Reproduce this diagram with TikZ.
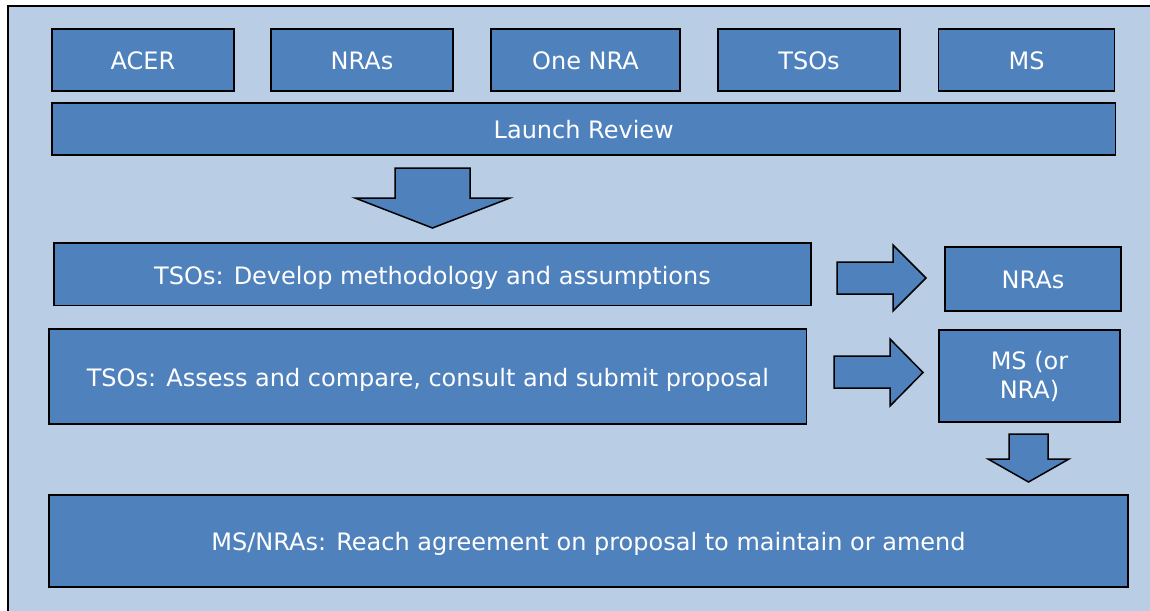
\documentclass[tikz,border=0pt]{standalone}
\usepackage{fontspec}
\setmainfont{DejaVu Sans}
\definecolor{boxblue}{RGB}{79,129,189}
\definecolor{bgblue}{RGB}{185,205,229}
\tikzset{
  blk/.style={draw=black, line width=1.5pt, fill=boxblue, text=white,
    font=\fontsize{24}{29}\selectfont, align=center, inner sep=0pt},
  blkone/.style={blk, text height=19.5pt, text depth=0pt},
  blockarrow/.style={draw=black, line width=1.5pt, fill=boxblue, line join=miter},
  frame/.style={draw=black, line width=1.5pt, fill=bgblue}
}
\begin{document}
\begin{tikzpicture}[x=1pt,y=-1pt]
\useasboundingbox (0,0) rectangle (1150,610);
\fill[white] (0,0) rectangle (1150,610);
\draw[frame] (8,6) rectangle (1170,630);
% top row
\node[blkone, minimum width=182pt, minimum height=62pt] (acer) at (143,60) {ACER};
\node[blkone, minimum width=182pt, minimum height=62pt] (nras) at (362,60) {NRAs};
\node[blkone, minimum width=189pt, minimum height=62pt] (onenra) at (585.5,60) {One NRA};
\node[blkone, minimum width=182pt, minimum height=62pt] (tsos) at (809,60) {TSOs};
\node[blkone, minimum width=176pt, minimum height=62pt] (ms) at (1026.5,60) {MS};
\node[blkone, minimum width=1063.5pt, minimum height=52pt] (launch) at (583.75,129) {Launch Review};
% middle
\node[blkone, minimum width=757pt, minimum height=62.5pt] (develop) at (432.5,274.25) {TSOs: Develop methodology and assumptions};
\node[blkone, minimum width=757.7pt, minimum height=95pt] (assess) at (427.85,376.5) {TSOs: Assess and compare, consult and submit proposal};
\node[blkone, minimum width=176pt, minimum height=64pt] (nrasr) at (1033,279) {NRAs};
\node[blk, minimum width=181pt, minimum height=92pt] (msnra) at (1029.5,376) {MS (or\\NRA)};
\node[blkone, minimum width=1079pt, minimum height=92pt] (agree) at (588.5,541) {MS/NRAs: Reach agreement on proposal to maintain or amend};
% block arrows
\draw[blockarrow] (395,168) -- (470,168) -- (470,198) -- (510,198) -- (432.5,228) -- (355,198) -- (395,198) -- cycle;
\draw[blockarrow] (837,262) -- (893,262) -- (893,245) -- (926,278) -- (893,311) -- (893,294) -- (837,294) -- cycle;
\draw[blockarrow] (834,356) -- (890,356) -- (890,339) -- (923,372.5) -- (890,406) -- (890,388) -- (834,388) -- cycle;
\draw[blockarrow] (1009,434) -- (1048,434) -- (1048,459) -- (1069,459) -- (1028.5,482) -- (988,459) -- (1009,459) -- cycle;
\end{tikzpicture}
\end{document}
